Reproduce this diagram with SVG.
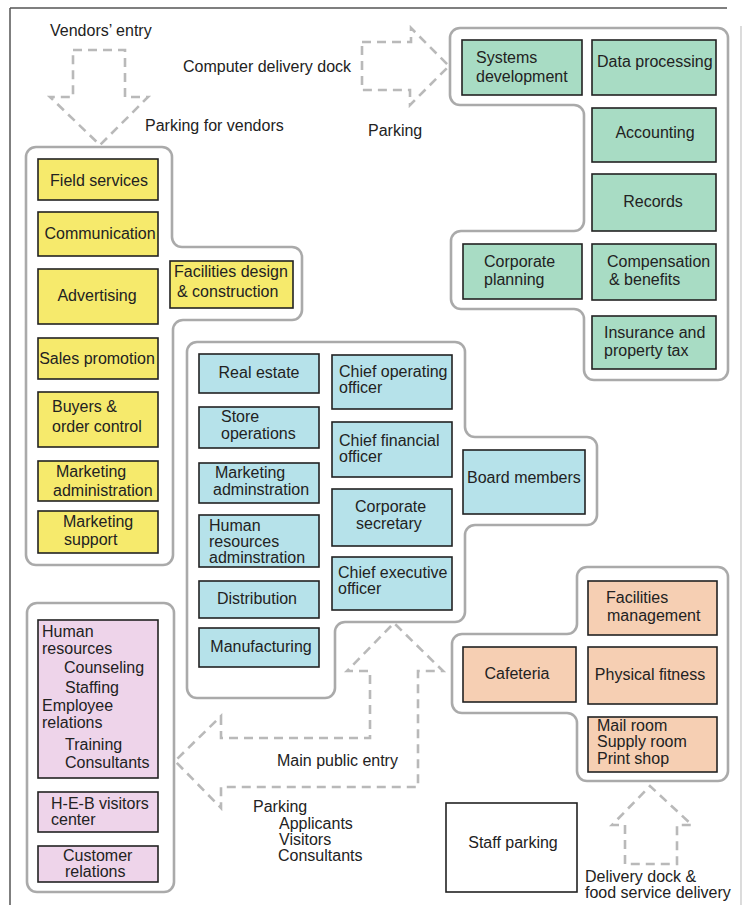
<svg xmlns="http://www.w3.org/2000/svg" width="743" height="905" viewBox="0 0 743 905">
<style>
.bg{fill:#fff}
.frame{stroke:#555;stroke-width:1.5;fill:none}
.frame2{stroke:#c4c4c4;stroke-width:1.2;fill:none}
.grp{fill:none;stroke:#aaa;stroke-width:2.6}
.box{stroke:#222;stroke-width:1.6}
.y{fill:#f6ea6c}
.g{fill:#a8dcc4}
.b{fill:#b6e2ea}
.o{fill:#f6cfb3}
.p{fill:#eed4ea}
.w{fill:#fff}
.arr{fill:none;stroke:#b9b9b9;stroke-width:2.6;stroke-dasharray:9 6;stroke-linejoin:miter}
text{font-family:"Liberation Sans",Arial,sans-serif;font-size:16px;fill:#222}
.m{text-anchor:middle}
</style>
<rect class="bg" x="0" y="0" width="743" height="905"/>
<g id="frame">
<line class="frame" x1="10" y1="8" x2="727" y2="8"/>
<line class="frame" x1="10" y1="8" x2="10" y2="905"/>
<line class="frame2" x1="741" y1="26" x2="741" y2="905"/>
</g>

<g id="zones">
<path id="zone-marketing" class="grp" d="M 36 147 H 162 A 10 10 0 0 1 172 157 V 237 A 10 10 0 0 0 182 247 H 292 A 10 10 0 0 1 302 257 V 310 A 10 10 0 0 1 292 320 H 183 A 10 10 0 0 0 173 330 V 555 A 10 10 0 0 1 163 565 H 36 A 10 10 0 0 1 26 555 V 157 A 10 10 0 0 1 36 147 Z"/>
<path id="zone-finance" class="grp" d="M 460 28 H 718 A 10 10 0 0 1 728 38 V 370 A 10 10 0 0 1 718 380 H 594 A 10 10 0 0 1 584 370 V 319 A 10 10 0 0 0 574 309 H 461 A 10 10 0 0 1 451 299 V 241 A 10 10 0 0 1 461 231 H 574 A 10 10 0 0 0 584 221 V 115 A 10 10 0 0 0 574 105 H 460 A 10 10 0 0 1 450 95 V 38 A 10 10 0 0 1 460 28 Z"/>
<path id="zone-exec" class="grp" d="M 197 342 H 455 A 10 10 0 0 1 465 352 V 427 A 10 10 0 0 0 475 437 H 587 A 10 10 0 0 1 597 447 V 515 A 10 10 0 0 1 587 525 H 475 A 10 10 0 0 0 465 535 V 612 A 10 10 0 0 1 455 622 H 345 A 10 10 0 0 0 335 632 V 688 A 10 10 0 0 1 325 698 H 197 A 10 10 0 0 1 187 688 V 352 A 10 10 0 0 1 197 342 Z"/>
<path id="zone-services" class="grp" d="M 587 567 H 718 A 10 10 0 0 1 728 577 V 771 A 10 10 0 0 1 718 781 H 587 A 10 10 0 0 1 577 771 V 723 A 10 10 0 0 0 567 713 H 462 A 10 10 0 0 1 452 703 V 644 A 10 10 0 0 1 462 634 H 567 A 10 10 0 0 0 577 624 V 577 A 10 10 0 0 1 587 567 Z"/>
<rect id="zone-hr" class="grp" x="27" y="603" width="147" height="289" rx="10"/>
</g>

<g id="connectors">
<polygon id="arr-vendors" class="arr" points="73,50 125,50 125,97 148,97 100,145 50,97 73,97"/>
<polygon id="arr-computer" class="arr" points="362,42 411,42 411,28 449,66 410,105 410,90 362,90"/>
<polygon id="arr-main" class="arr" points="221,716 221,738 370,738 370,671 347,671 394,623 443,671 418,671 418,787 221,787 221,808 175,761"/>
<polygon id="arr-delivery" class="arr" points="625,864 625,825 612,825 650,786 692,825 677,825 677,864"/>
</g>

<g id="labels">
<text x="50" y="36">Vendors’ entry</text>
<text x="183" y="72">Computer delivery dock</text>
<text x="145" y="131">Parking for vendors</text>
<text x="368" y="136">Parking</text>
<text x="277" y="766">Main public entry</text>
<text x="253" y="812">Parking</text>
<text x="279" y="829">Applicants</text>
<text x="279" y="845">Visitors</text>
<text x="278" y="861">Consultants</text>
<text x="585" y="882">Delivery dock &amp;</text>
<text x="585" y="898">food service delivery</text>
</g>

<g id="field-services"><rect class="box y" x="38" y="159" width="120" height="41"/><text class="m" x="99" y="186">Field services</text></g>
<g id="communication"><rect class="box y" x="38" y="212" width="120" height="44"/><text class="m" x="100" y="239">Communication</text></g>
<g id="advertising"><rect class="box y" x="38" y="269" width="120" height="55"/><text class="m" x="97" y="301">Advertising</text></g>
<g id="sales-promotion"><rect class="box y" x="38" y="338" width="120" height="41"/><text class="m" x="97" y="364">Sales promotion</text></g>
<g id="buyers"><rect class="box y" x="38" y="392" width="120" height="55"/><text x="52" y="412">Buyers &amp;</text><text x="52" y="432">order control</text></g>
<g id="marketing-administration"><rect class="box y" x="38" y="461" width="120" height="40"/><text x="56" y="477">Marketing</text><text x="53" y="496">administration</text></g>
<g id="marketing-support"><rect class="box y" x="38" y="511" width="120" height="42"/><text x="63" y="527">Marketing</text><text x="64" y="545">support</text></g>
<g id="facilities-design"><rect class="box y" x="170" y="261" width="123" height="47"/><text x="174" y="277">Facilities design</text><text x="177" y="297">&amp; construction</text></g>

<g id="systems-development"><rect class="box g" x="462" y="40" width="120" height="55"/><text x="476" y="63">Systems</text><text x="476" y="82">development</text></g>
<g id="data-processing"><rect class="box g" x="592" y="40" width="124" height="55"/><text x="597" y="67">Data processing</text></g>
<g id="accounting"><rect class="box g" x="592" y="108" width="124" height="54"/><text class="m" x="655" y="138">Accounting</text></g>
<g id="records"><rect class="box g" x="592" y="174" width="124" height="57"/><text class="m" x="653" y="207">Records</text></g>
<g id="corporate-planning"><rect class="box g" x="463" y="244" width="119" height="55"/><text x="484" y="267">Corporate</text><text x="484" y="285">planning</text></g>
<g id="compensation"><rect class="box g" x="592" y="244" width="124" height="56"/><text x="607" y="267">Compensation</text><text x="609" y="285">&amp; benefits</text></g>
<g id="insurance"><rect class="box g" x="592" y="316" width="124" height="53"/><text x="604" y="338">Insurance and</text><text x="604" y="356">property tax</text></g>

<g id="real-estate"><rect class="box b" x="199" y="354" width="120" height="39"/><text class="m" x="259" y="378">Real estate</text></g>
<g id="store-operations"><rect class="box b" x="199" y="407" width="120" height="41"/><text x="221" y="422">Store</text><text x="221" y="439">operations</text></g>
<g id="marketing-adminstration"><rect class="box b" x="199" y="463" width="120" height="40"/><text x="215" y="478">Marketing</text><text x="213" y="495">adminstration</text></g>
<g id="hr-adminstration"><rect class="box b" x="199" y="515" width="120" height="52"/><text x="209" y="531">Human</text><text x="209" y="547">resources</text><text x="209" y="563">adminstration</text></g>
<g id="distribution"><rect class="box b" x="199" y="581" width="120" height="37"/><text class="m" x="257" y="604">Distribution</text></g>
<g id="manufacturing"><rect class="box b" x="199" y="628" width="120" height="39"/><text class="m" x="261" y="652">Manufacturing</text></g>
<g id="coo"><rect class="box b" x="332" y="355" width="120" height="54"/><text x="339" y="377">Chief operating</text><text x="339" y="393">officer</text></g>
<g id="cfo"><rect class="box b" x="332" y="422" width="120" height="55"/><text x="339" y="446">Chief financial</text><text x="339" y="462">officer</text></g>
<g id="corporate-secretary"><rect class="box b" x="332" y="489" width="120" height="57"/><text x="355" y="512">Corporate</text><text x="356" y="529">secretary</text></g>
<g id="ceo"><rect class="box b" x="332" y="557" width="120" height="53"/><text x="338" y="578">Chief executive</text><text x="338" y="594">officer</text></g>
<g id="board-members"><rect class="box b" x="463" y="450" width="122" height="64"/><text x="467" y="483">Board members</text></g>

<g id="facilities-management"><rect class="box o" x="588" y="581" width="129" height="54"/><text x="606" y="603">Facilities</text><text x="607" y="621">management</text></g>
<g id="cafeteria"><rect class="box o" x="463" y="647" width="113" height="55"/><text class="m" x="517" y="679">Cafeteria</text></g>
<g id="physical-fitness"><rect class="box o" x="588" y="647" width="129" height="57"/><text class="m" x="650" y="680">Physical fitness</text></g>
<g id="mail-room"><rect class="box o" x="588" y="717" width="129" height="55"/><text x="597" y="731">Mail room</text><text x="597" y="747">Supply room</text><text x="597" y="764">Print shop</text></g>
<g id="staff-parking"><rect class="box w" x="446" y="803" width="131" height="89"/><text class="m" x="513" y="848">Staff parking</text></g>

<g id="human-resources"><rect class="box p" x="38" y="620" width="120" height="158"/><text x="42" y="637">Human</text><text x="42" y="654">resources</text><text x="64" y="673">Counseling</text><text x="65" y="693">Staffing</text><text x="42" y="711">Employee</text><text x="42" y="728">relations</text><text x="65" y="750">Training</text><text x="65" y="768">Consultants</text></g>
<g id="visitors-center"><rect class="box p" x="38" y="792" width="120" height="40"/><text x="51" y="809">H-E-B visitors</text><text x="51" y="825">center</text></g>
<g id="customer-relations"><rect class="box p" x="38" y="846" width="120" height="36"/><text x="63" y="861">Customer</text><text x="65" y="877">relations</text></g>
</svg>
